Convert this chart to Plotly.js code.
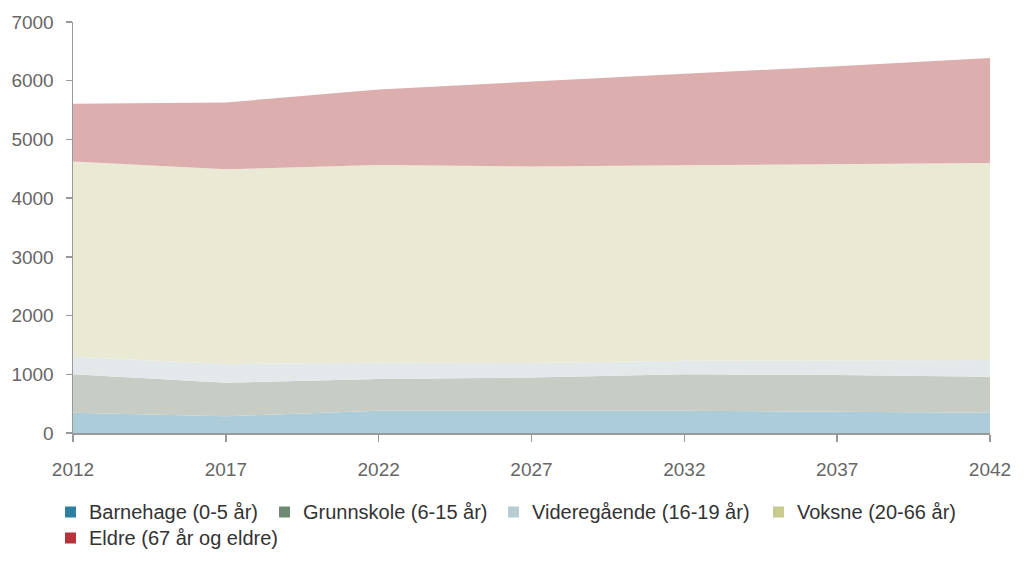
<!DOCTYPE html>
<html>
<head>
<meta charset="utf-8">
<script src="https://cdn.plot.ly/plotly-3.0.1.min.js"></script>
<style>html,body{margin:0;padding:0;background:#fff;}#chart{width:1024px;height:576px;}</style>
</head>
<body>
<div id="chart"></div>
<script>
const years = [2012, 2017, 2022, 2027, 2032, 2037, 2042];
const seriesNames = ["Barnehage (0-5 år)", "Grunnskole (6-15 år)", "Videregående (16-19 år)", "Voksne (20-66 år)", "Eldre (67 år og eldre)"];
const barnehage = [346, 285, 380, 385, 380, 363, 346];
const grunnskole = [654, 572, 540, 561, 620, 625, 614];
const videregaende = [300, 318, 278, 246, 232, 256, 284];
const voksne = [3322, 3317, 3367, 3348, 3328, 3333, 3356];
const eldre = [985, 1138, 1285, 1450, 1560, 1668, 1785];
const yTicks = [0, 1000, 2000, 3000, 4000, 5000, 6000, 7000];

const values = [barnehage, grunnskole, videregaende, voksne, eldre];
const fillColors = ["#adccd9", "#c7ccc5", "#e3e9ea", "#eaead4", "#ddaeae"];
const legendColors = ["#2f7fa0", "#6e8a72", "#b8ccd1", "#c9cb8e", "#b8323a"];

const traces = values.map((v, i) => ({
  type: "scatter", mode: "lines", x: years, y: v, name: seriesNames[i],
  stackgroup: "one", fillcolor: fillColors[i],
  line: {width: 0, color: fillColors[i]},
  showlegend: false, hoverinfo: "skip"
}));

// Manual legend layout (pixel positions of entries)
const W = 1024, H = 576, ML = 73, MR = 34, MT = 22, MB = 143;
const PW = W - ML - MR, PH = H - MT - MB;
const px = x => (x - ML) / PW;
const py = y => (H - MB - y) / PH;
const legendPos = [[65, 512], [279, 512], [508, 512], [773, 512], [65, 538]];
const shapes = [], annotations = [];
legendPos.forEach(([x, y], i) => {
  shapes.push({type: "rect", xref: "paper", yref: "paper",
    x0: px(x), x1: px(x + 11), y0: py(y + 5.5), y1: py(y - 5.5),
    fillcolor: legendColors[i], line: {width: 0}});
  annotations.push({xref: "paper", yref: "paper", x: px(x + 22), y: py(y),
    xanchor: "left", yanchor: "middle", showarrow: false, text: seriesNames[i],
    font: {size: 20, color: "#333"}});
});

const layout = {
  width: W, height: H,
  margin: {l: ML, r: MR, t: MT, b: MB},
  paper_bgcolor: "#fff", plot_bgcolor: "#fff",
  font: {family: "Liberation Sans, Arial, sans-serif", size: 19, color: "#666"},
  showlegend: false,
  xaxis: {
    range: [2012, 2042], tickvals: years, ticktext: years.map(String),
    showgrid: false, zeroline: false, showline: true, linecolor: "#999", linewidth: 1.5,
    ticks: "outside", ticklen: 7, tickcolor: "#999", tickwidth: 1.5,
    ticklabelstandoff: 12, tickfont: {size: 19, color: "#666"}
  },
  yaxis: {
    range: [0, 7000], tickvals: yTicks,
    showgrid: false, zeroline: false, showline: true, linecolor: "#999", linewidth: 1.5,
    ticks: "outside", ticklen: 6, tickcolor: "#999", tickwidth: 1.5,
    ticklabelstandoff: 8, tickfont: {size: 19, color: "#666"}
  },
  shapes: shapes,
  annotations: annotations
};

Plotly.newPlot("chart", traces, layout, {displayModeBar: false, staticPlot: true});
</script>
</body>
</html>
